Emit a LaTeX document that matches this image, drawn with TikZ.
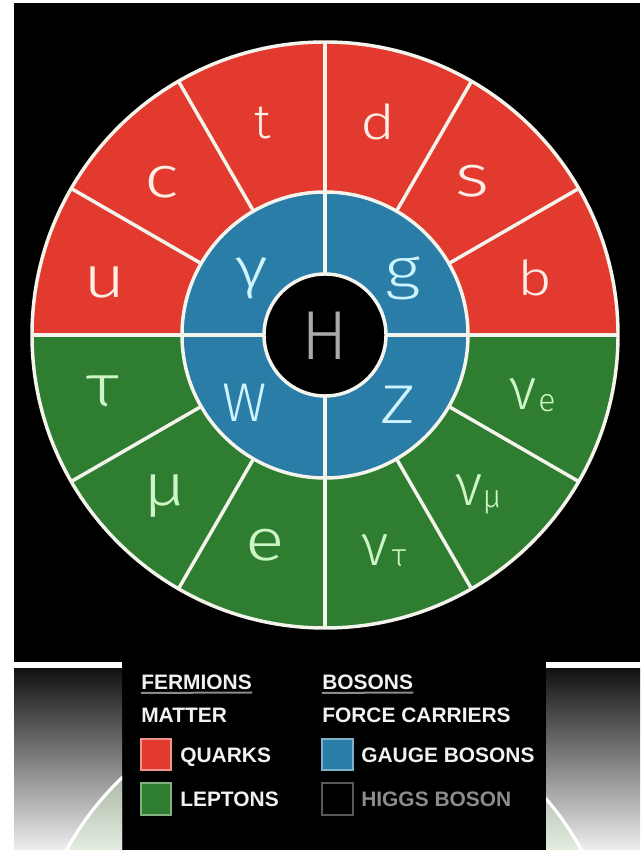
\documentclass[tikz,border=0pt]{standalone}
\usepackage{fontspec}
\setmainfont{Liberation Sans}
\newfontfamily\lightfont{Fira Sans Light}
\definecolor{qred}{RGB}{226,58,46}
\definecolor{lgreen}{RGB}{46,125,48}
\definecolor{gblue}{RGB}{42,125,166}
\definecolor{wline}{RGB}{244,244,236}
\definecolor{redtxt}{RGB}{252,238,230}
\definecolor{greentxt}{RGB}{205,245,200}
\definecolor{bluetxt}{RGB}{205,243,255}
\definecolor{higgstxt}{RGB}{170,170,170}
\definecolor{legtxt}{RGB}{242,242,242}
\definecolor{leggray}{RGB}{140,140,140}
\definecolor{arctop}{RGB}{90,105,88}
\definecolor{arcbot}{RGB}{228,238,224}
\tikzset{
  wl/.style={draw=wline, line width=2.6pt},
  xh/.style={font=\lightfont\fontsize{44}{44}\selectfont, inner sep=0pt},
  wide/.style={xscale=1.25},
  asc/.style={font=\lightfont\fontsize{36}{36}\selectfont, inner sep=0pt},
  subl/.style={font=\lightfont\fontsize{24}{24}\selectfont, inner sep=0pt},
  capl/.style={font=\lightfont\fontsize{41}{41}\selectfont, inner sep=0pt},
  gl/.style={font=\lightfont\fontsize{42}{42}\selectfont, inner sep=0pt},
  higgs/.style={font=\lightfont\fontsize{52}{52}\selectfont, inner sep=0pt, text=higgstxt},
  leg/.style={font=\bfseries\fontsize{15.7}{15.7}\selectfont, inner sep=0pt, anchor=base west, text=legtxt},
  sq/.style={line width=1.2pt},
}
\begin{document}
\begin{tikzpicture}[x=0.75pt,y=0.75pt]
\useasboundingbox (0,0) rectangle (640,850);
\fill[white] (0,0) rectangle (640,850);
% black backgrounds
\fill[black] (14,188) rectangle (640,847);
\fill[black] (122,0) rectangle (546,188);
% gradient panels
\shade[top color=black!93, bottom color=black!7] (14,0) rectangle (122,181);
\shade[top color=black!93, bottom color=black!7] (546,0) rectangle (640,181);
% faint second circle seen through the panels
\begin{scope}
  \clip (14,0) rectangle (122,181) (546,0) rectangle (640,181);
  \begin{scope}
    \clip (324,-140) circle (293);
    \shade[top color=arctop, bottom color=arcbot] (0,0) rectangle (640,181);
  \end{scope}
  \draw[draw=white, line width=2.4pt] (324,-140) circle (293);
\end{scope}

% main wheel
\coordinate (C) at (325,515);
\fill[qred] (C) ++(0:293) arc[start angle=0, end angle=180, radius=293] -- cycle;
\fill[lgreen] (C) ++(180:293) arc[start angle=180, end angle=360, radius=293] -- cycle;
\fill[gblue] (C) circle (143);
\fill[black] (C) circle (61);
\foreach \a in {30,60,120,150,210,240,300,330}
  \draw[wl] (C) ++(\a:143) -- ++(\a:150);
\foreach \a in {0,90,180,270}
  \draw[wl] (C) ++(\a:61) -- ++(\a:232);
\draw[wl] (C) circle (293);
\draw[wl] (C) circle (143);
\draw[wl] (C) circle (61);

% quarks
\node[xh, wide, text=redtxt] (u) at (105,568) {u};
\node[xh, wide, text=redtxt] (c) at (162,668) {c};
\node[asc, text=redtxt] (t) at (263,727) {t};
\node[asc, wide, text=redtxt] (d) at (378,728) {d};
\node[xh, wide, text=redtxt] (s) at (473,669) {s};
\node[asc, wide, text=redtxt] (b) at (535,572) {b};
% leptons
\node[xh, wide, text=greentxt] (tau) at (103,459) {τ};
\node[xh, wide, text=greentxt] (mu) at (165,354) {μ};
\node[xh, wide, text=greentxt] (e) at (265,305) {e};
\node[xh, text=greentxt] (nut) at (375.5,300) {ν};
\node[subl, text=greentxt] (nutsub) at (399,291.5) {τ};
\node[xh, text=greentxt] (num) at (469.5,360) {ν};
\node[subl, text=greentxt] (numsub) at (492,347.5) {μ};
\node[xh, text=greentxt] (nue) at (523.5,456.5) {ν};
\node[subl, text=greentxt] (nuesub) at (547,446.5) {e};
% gauge bosons
\node[gl, wide, text=bluetxt] (gamma) at (252,572) {γ};
\node[gl, wide, text=bluetxt] (g) at (403,572) {g};
\node[capl, text=bluetxt] (W) at (245,447) {W};
\node[capl, wide, text=bluetxt] (Z) at (398,445) {Z};
% higgs
\node[higgs] (H) at (325,514) {H};

% legend
\node[leg] (fer) at (141,160) {FERMIONS};
\node[leg] (bos) at (322,160) {BOSONS};
\draw[leggray, line width=1.5pt] (fer.south west) ++(0,-2.5) -- (fer.south east |- 0,157.5);
\draw[leggray, line width=1.5pt] (bos.south west) ++(0,-2.5) -- (bos.south east |- 0,157.5);
\node[leg] (mat) at (141,127) {MATTER};
\node[leg] (fc) at (322,127) {FORCE CARRIERS};
\draw[sq, fill=qred, draw=qred!55!white] (141,80) rectangle (171,111);
\node[leg] (qk) at (180,87) {QUARKS};
\draw[sq, fill=lgreen, draw=lgreen!60!white] (141,35) rectangle (171,67);
\node[leg] (lp) at (180,43) {LEPTONS};
\draw[sq, fill=gblue, draw=gblue!60!white] (322,80) rectangle (353,111);
\node[leg] (gb) at (361,87) {GAUGE BOSONS};
\draw[sq, fill=black, draw=black!65!white] (322,35) rectangle (353,67);
\node[leg, text=leggray] (hb) at (361,43) {HIGGS BOSON};
\end{tikzpicture}
\end{document}
